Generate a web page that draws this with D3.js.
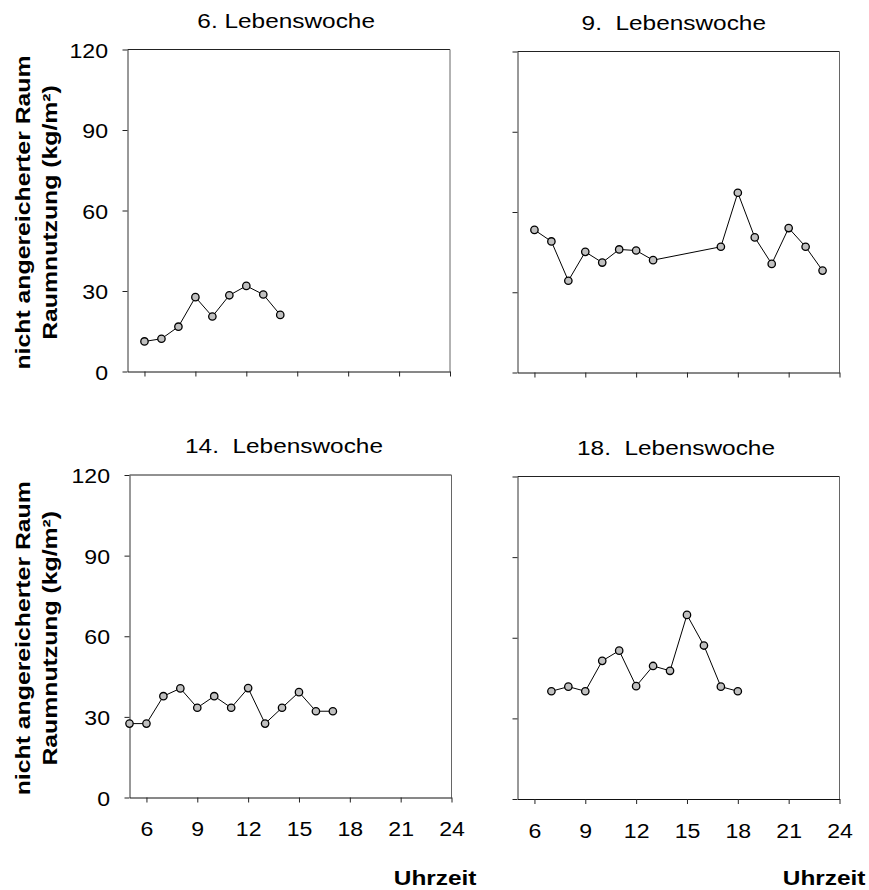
<!DOCTYPE html>
<html>
<head>
<meta charset="utf-8">
<script src="https://cdn.jsdelivr.net/npm/d3@7"></script>
<style>
  html, body { margin: 0; padding: 0; background: #fff; }
  svg { display: block; font-family: "Liberation Sans", Arial, sans-serif; }
  svg text { white-space: pre; }
</style>
</head>
<body>
<svg id="chart" width="869" height="890"></svg>
<script>
// Hourly space use (kg/m²) in the non-enriched pen, by age week
const panelTitles = ["6. Lebenswoche", "9.  Lebenswoche", "14.  Lebenswoche", "18.  Lebenswoche"];

const hoursW6  = [6, 7, 8, 9, 10, 11, 12, 13, 14];
const valuesW6 = [11.2, 12.2, 16.7, 27.7, 20.5, 28.4, 31.9, 28.7, 21.1];

const hoursW9  = [6, 7, 8, 9, 10, 11, 12, 13, 17, 18, 19, 20, 21, 22, 23];
const valuesW9 = [53.3, 49.0, 34.3, 45.1, 41.1, 46.0, 45.6, 42.0, 47.0, 67.2, 50.5, 40.6, 54.0, 47.0, 38.1];

const hoursW14  = [5, 6, 7, 8, 9, 10, 11, 12, 13, 14, 15, 16, 17];
const valuesW14 = [27.5, 27.5, 37.7, 40.6, 33.4, 37.7, 33.4, 40.7, 27.5, 33.4, 39.2, 32.1, 32.1];

const hoursW18  = [7, 8, 9, 10, 11, 12, 13, 14, 15, 16, 17, 18];
const valuesW18 = [40.1, 41.8, 40.1, 51.4, 55.2, 42.0, 49.5, 47.7, 68.5, 57.1, 41.8, 40.1];

const xTicks = [6, 9, 12, 15, 18, 21, 24];
const yTicks = [0, 30, 60, 90, 120];
const xDomain = [5, 24];
const yDomain = [0, 120];

const yTitleLines = ["nicht angereicherter Raum", "Raumnutzung (kg/m²)"];
const xTitle = "Uhrzeit";

const series = [
  { title: panelTitles[0], hours: hoursW6,  values: valuesW6 },
  { title: panelTitles[1], hours: hoursW9,  values: valuesW9 },
  { title: panelTitles[2], hours: hoursW14, values: valuesW14 },
  { title: panelTitles[3], hours: hoursW18, values: valuesW18 }
];

// Panel frames (left, right, top, bottom) and label options
const layout = [
  { x0: 127.5, x1: 450,   y0: 49.5,  y1: 371.5, yLabels: true,  xLabels: false, titleEnd: 375 },
  { x0: 517.5, x1: 839.5, y0: 51.5,  y1: 372.5, yLabels: false, xLabels: false, titleEnd: 766 },
  { x0: 129.5, x1: 451.5, y0: 475,   y1: 797.5, yLabels: true,  xLabels: true,  titleEnd: 383 },
  { x0: 517.5, x1: 839.5, y0: 476.5, y1: 799,   yLabels: false, xLabels: true,  titleEnd: 775 }
];

const svg = d3.select("#chart");

// text drawn at (x, y), optionally rotated, with glyphs widened by k along the line
function wideText(parent, x, y, k, rot) {
  return parent.append("text")
    .attr("xml:space", "preserve")
    .attr("transform", `translate(${x},${y})` + (rot ? ` rotate(${rot})` : "") + ` scale(${k},1)`);
}

// move axis labels into a transform so they can be widened too
function widenAxisText(sel, k) {
  sel.each(function () {
    const t = d3.select(this);
    const x = +t.attr("x") || 0;
    const y = +t.attr("y") || 0;
    t.attr("x", 0).attr("y", 0).attr("transform", `translate(${x},${y}) scale(${k},1)`);
  });
}

series.forEach((s, i) => {
  const L = layout[i];
  const x = d3.scaleLinear().domain(xDomain).range([L.x0, L.x1]);
  const y = d3.scaleLinear().domain(yDomain).range([L.y1, L.y0]);
  const g = svg.append("g");

  // frame
  g.append("line").attr("x1", L.x0).attr("x2", L.x1).attr("y1", L.y0).attr("y2", L.y0)
    .attr("stroke", "#222").attr("stroke-width", 1);
  g.append("line").attr("x1", L.x1).attr("x2", L.x1).attr("y1", L.y0).attr("y2", L.y1)
    .attr("stroke", "#666").attr("stroke-width", 1);

  // left axis
  const ya = d3.axisLeft(y).tickValues(yTicks).tickSizeInner(5).tickSizeOuter(0).tickPadding(14.5)
    .tickFormat(L.yLabels ? d3.format("d") : () => "");
  const yg = g.append("g").attr("transform", `translate(${L.x0},0)`).call(ya);
  yg.select(".domain").attr("stroke", "#333");
  yg.selectAll(".tick line").attr("stroke", "#222");
  yg.selectAll("text").attr("font-size", 21).attr("fill", "#000")
    .attr("font-family", "Liberation Sans, Arial, sans-serif").attr("dy", "0.36em");
  if (L.yLabels) widenAxisText(yg.selectAll("text"), 1.1);

  // bottom axis
  const xa = d3.axisBottom(x).tickValues(xTicks).tickSizeInner(5).tickSizeOuter(0).tickPadding(19)
    .tickFormat(L.xLabels ? d3.format("d") : () => "");
  const xg = g.append("g").attr("transform", `translate(0,${L.y1})`).call(xa);
  xg.select(".domain").attr("stroke", "#111");
  xg.selectAll(".tick line").attr("stroke", "#222");
  xg.selectAll("text").attr("font-size", 21).attr("fill", "#000")
    .attr("font-family", "Liberation Sans, Arial, sans-serif");
  if (L.xLabels) widenAxisText(xg.selectAll("text"), 1.1);

  // panel title
  wideText(g, L.titleEnd, L.y0 - 22, 1.22)
    .attr("text-anchor", "end").attr("font-size", 20).attr("fill", "#000")
    .text(s.title);

  // line + markers
  const pts = s.hours.map((h, j) => [h, s.values[j]]);
  g.append("path").datum(pts)
    .attr("fill", "none").attr("stroke", "#000").attr("stroke-width", 1)
    .attr("d", d3.line().x(d => x(d[0])).y(d => y(d[1])));
  g.selectAll("circle").data(pts).join("circle")
    .attr("cx", d => x(d[0])).attr("cy", d => y(d[1])).attr("r", 3.7)
    .attr("fill", "#c0c0c0").attr("stroke", "#000").attr("stroke-width", 1.3);

  // y title (left column only)
  if (L.yLabels) {
    const cy = (L.y0 + L.y1) / 2 + 2;
    wideText(svg, 29.5, cy, 1.24, -90)
      .attr("text-anchor", "middle").attr("font-size", 20).attr("font-weight", "bold")
      .text(yTitleLines[0]);
    wideText(svg, 56.5, cy, 1.24, -90)
      .attr("text-anchor", "middle").attr("font-size", 20).attr("font-weight", "bold")
      .text(yTitleLines[1]);
  }

  // x title (bottom row only)
  if (L.xLabels) {
    wideText(svg, L.x1 + (i === 2 ? 25 : 26), 885, 1.22)
      .attr("text-anchor", "end").attr("font-size", 20).attr("font-weight", "bold")
      .text(xTitle);
  }
});
</script>
</body>
</html>
